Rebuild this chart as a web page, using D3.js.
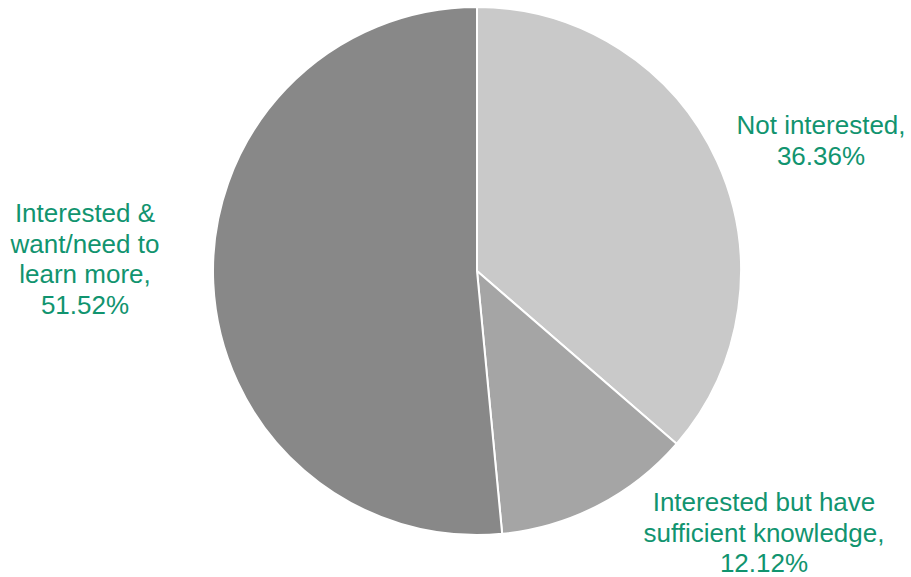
<!DOCTYPE html>
<html>
<head>
<meta charset="utf-8">
<script src="https://cdn.jsdelivr.net/npm/d3@7"></script>
<style>
  html, body { margin: 0; padding: 0; background: #ffffff; }
  svg { display: block; }
  .label { font-family: "Liberation Sans", Arial, sans-serif; font-size: 26px; fill: #11946f; }
</style>
</head>
<body>
<svg id="chart" width="911" height="577"></svg>
<script>
// Survey responses, in drawing order (clockwise from 12 o'clock)
const categories = [
  ["Not interested,"],
  ["Interested but have", "sufficient knowledge,"],
  ["Interested &", "want/need to", "learn more,"]
];
const values = [36.36, 12.12, 51.52];
const colors = ["#c9c9c9", "#a5a5a5", "#888888"];

// Label blocks: horizontal centre and first baseline (text layout only)
const labelAnchors = [
  { x: 821, y: 134 },
  { x: 764, y: 511 },
  { x: 85, y: 222 }
];

const cx = 477, cy = 271, radius = 264;
const lineHeight = 30.5;

const svg = d3.select("#chart");
const g = svg.append("g").attr("transform", `translate(${cx},${cy})`);

const pie = d3.pie().sort(null).value(d => d);
const arc = d3.arc().innerRadius(0).outerRadius(radius);
const arcs = pie(values);

g.selectAll("path.slice")
  .data(arcs)
  .join("path")
  .attr("class", "slice")
  .attr("d", arc)
  .attr("fill", (d, i) => colors[i])
  .attr("stroke", "#ffffff")
  .attr("stroke-width", 2)
  .attr("stroke-linejoin", "round");

const fmt = d3.format(".2f");

arcs.forEach((d, i) => {
  const lines = categories[i].concat([fmt(d.data) + "%"]);
  const a = labelAnchors[i];
  const t = svg.append("text")
    .attr("class", "label")
    .attr("text-anchor", "middle");
  lines.forEach((ln, j) => {
    t.append("tspan")
      .attr("x", a.x)
      .attr("y", a.y + j * lineHeight)
      .text(ln);
  });
});
</script>
</body>
</html>
